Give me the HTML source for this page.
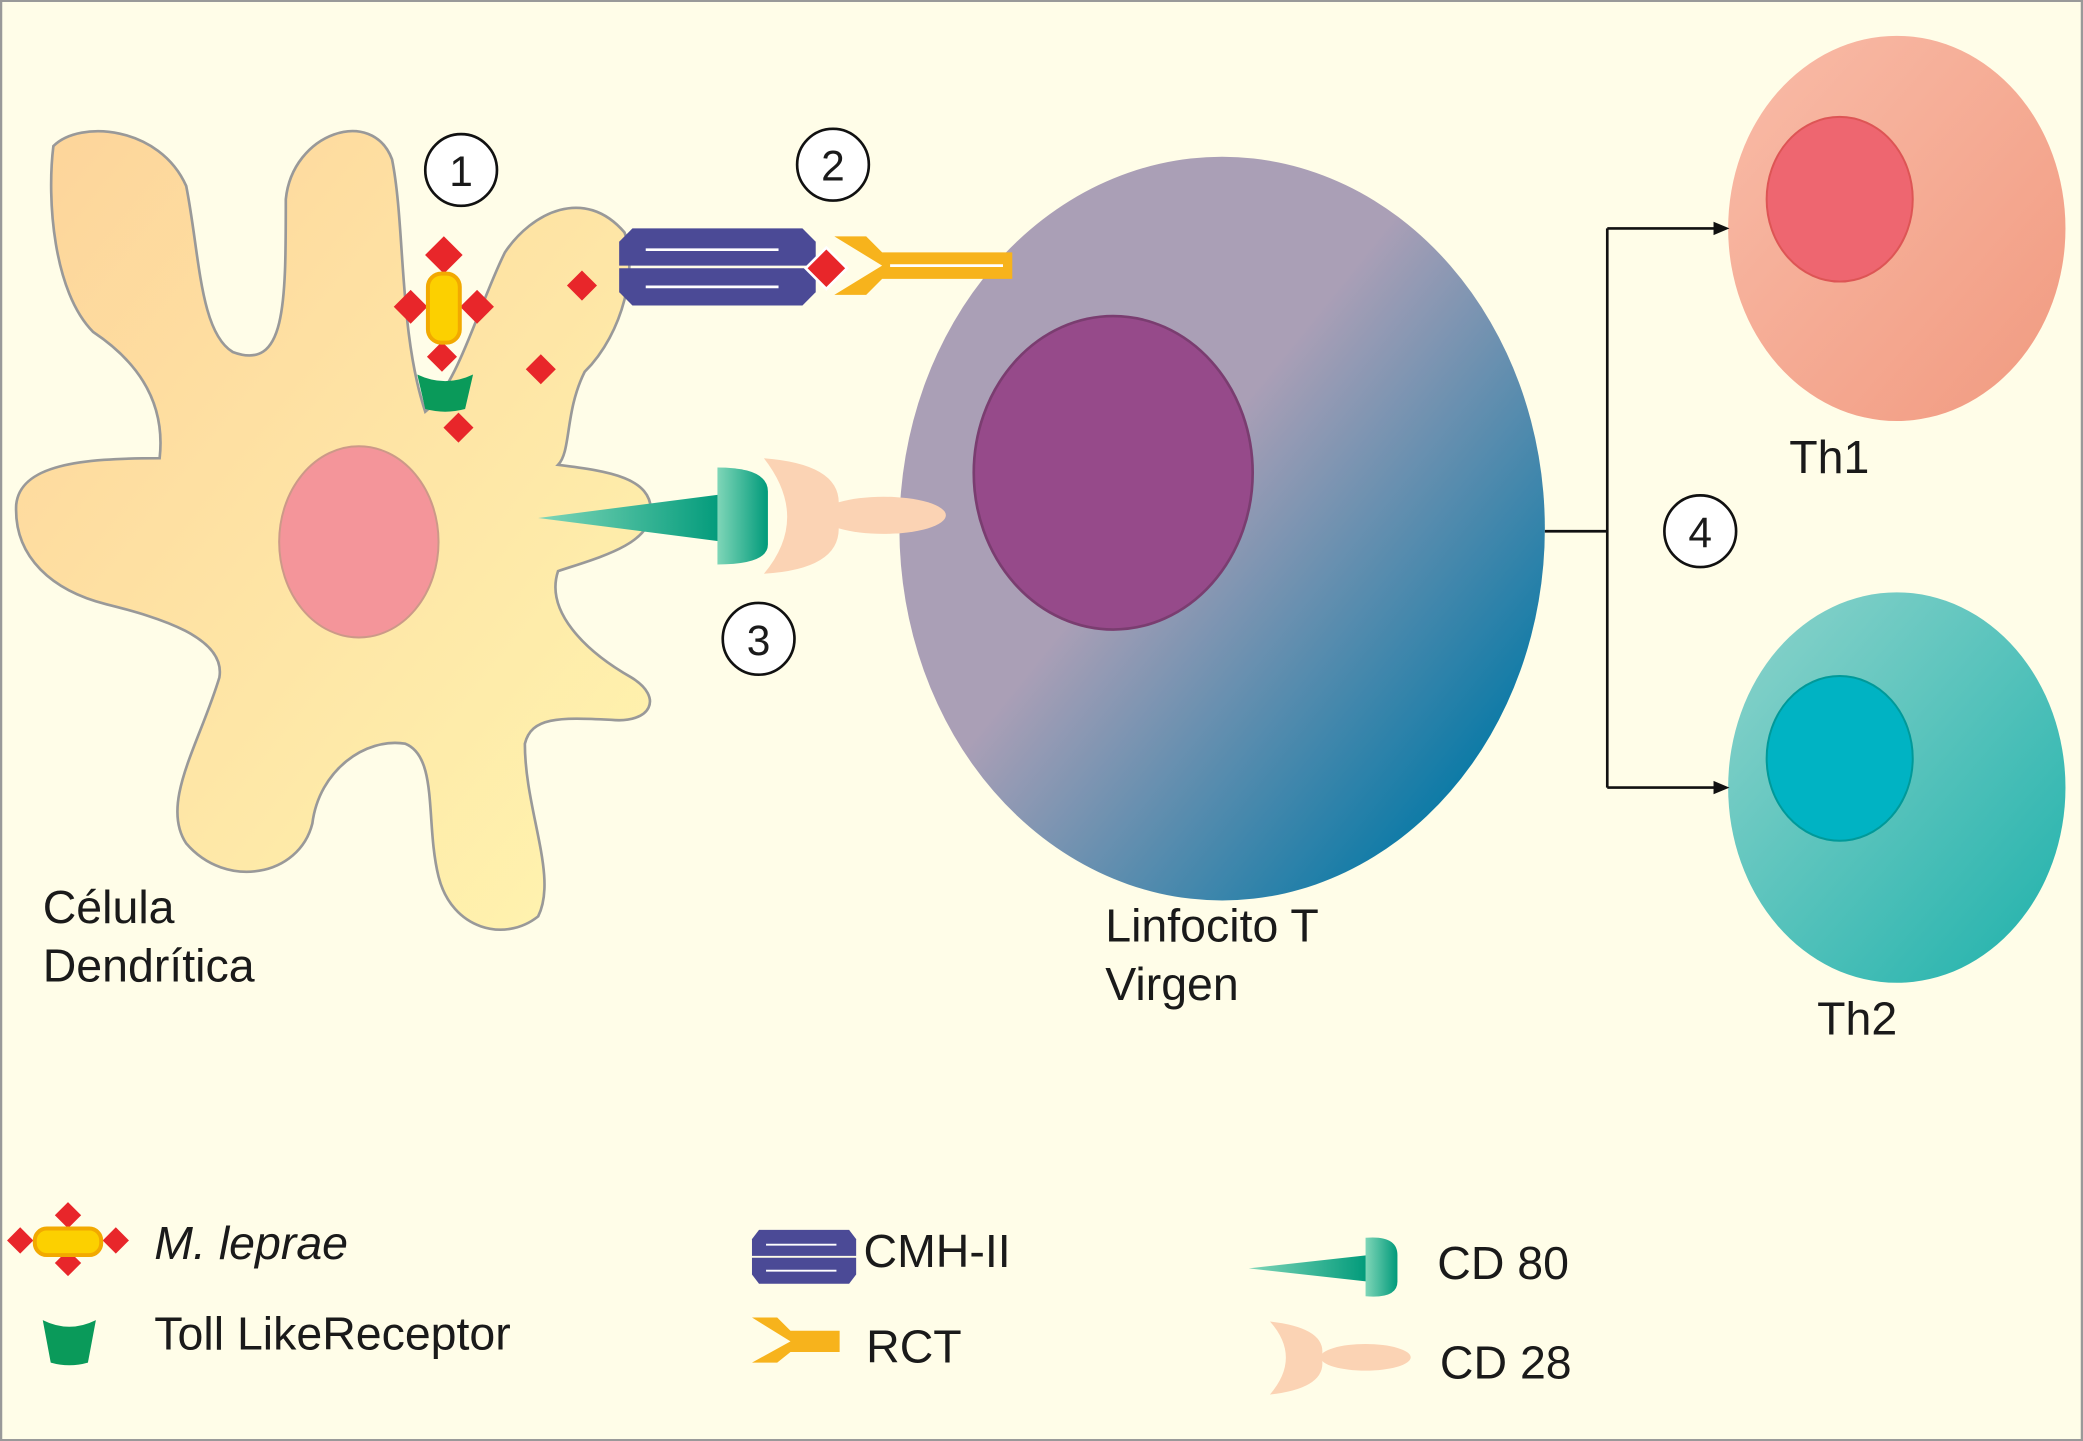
<!DOCTYPE html>
<html><head><meta charset="utf-8"><style>
html,body{margin:0;padding:0;background:#fffde8;}
svg{display:block;}
text{font-family:"Liberation Sans",sans-serif;fill:#1a1a1a;}
</style></head><body>
<svg width="2083" height="1441" viewBox="0 0 1568 1085" xmlns="http://www.w3.org/2000/svg">
<defs>
<linearGradient id="dc" x1="0" y1="0" x2="1" y2="1"><stop offset="0" stop-color="#fdd49a"/><stop offset="1" stop-color="#fff5b0"/></linearGradient>
<linearGradient id="tc" x1="0.2" y1="0.2" x2="0.9" y2="0.85"><stop offset="0.35" stop-color="#aa9fb6"/><stop offset="1" stop-color="#0679a6"/></linearGradient>
<linearGradient id="th1" x1="0" y1="0" x2="1" y2="1"><stop offset="0" stop-color="#f9bca8"/><stop offset="1" stop-color="#f19a80"/></linearGradient>
<linearGradient id="th2" x1="0" y1="0" x2="1" y2="1"><stop offset="0" stop-color="#8fd4cc"/><stop offset="1" stop-color="#1eb1ab"/></linearGradient>
<linearGradient id="cd80" x1="0" y1="0" x2="1" y2="0"><stop offset="0" stop-color="#7fd6b8"/><stop offset="1" stop-color="#009a7a"/></linearGradient>
<g id="mhc"><polygon points="0,10 10,0 138,0 148,10 148,28 0,28" fill="#4b4a96"/><polygon points="0,30 148,30 148,48 138,58 10,58 0,48" fill="#4b4a96"/><line x1="20" y1="16" x2="120" y2="16" stroke="#fff" stroke-width="2"/><line x1="20" y1="44" x2="120" y2="44" stroke="#fff" stroke-width="2"/></g>
</defs>
<rect x="0.5" y="0.5" width="1567" height="1084" fill="#fffde8" stroke="#999" stroke-width="2"/>
<!-- T cell -->
<ellipse cx="920" cy="398" rx="243" ry="280" fill="url(#tc)"/>
<ellipse cx="838" cy="356" rx="105" ry="118" fill="#964a8a" stroke="#7a3d70" stroke-width="2"/>
<!-- dendritic cell -->
<path d="M40,110 C60,90 120,95 140,140 C150,190 150,250 175,265 C215,280 215,230 215,150 C220,100 280,80 295,120 C305,170 300,250 320,310 C345,290 360,230 380,190 C400,160 440,140 470,175 C480,200 470,250 440,280 C425,310 430,340 420,350 C460,355 490,360 490,385 C490,410 450,420 420,430 C410,460 440,490 475,510 C500,525 490,545 460,542 C420,540 400,540 395,560 C395,610 420,660 405,690 C380,710 340,700 330,660 C320,620 330,570 305,560 C275,555 240,580 235,620 C225,660 170,670 140,635 C120,605 150,560 165,510 C170,480 120,465 80,455 C40,445 10,420 12,380 C15,350 60,345 120,345 C125,300 100,270 70,250 C40,220 35,150 40,110 Z" fill="url(#dc)" stroke="#999" stroke-width="2"/>
<ellipse cx="270" cy="408" rx="60" ry="72" fill="#f4959a" stroke="#c98" stroke-width="1.5"/>
<g fill="#e8262a">
<rect x="324" y="182" width="20" height="20" transform="rotate(45 334 192)"/>
<rect x="324" y="262" width="16" height="16" transform="rotate(45 334 270)"/>
<rect x="300" y="222" width="18" height="18" transform="rotate(45 309 231)"/>
<rect x="350" y="222" width="18" height="18" transform="rotate(45 359 231)"/>
<rect x="430" y="207" width="16" height="16" transform="rotate(45 438 215)"/>
<rect x="399" y="270" width="16" height="16" transform="rotate(45 407 278)"/>
<rect x="337" y="314" width="16" height="16" transform="rotate(45 345 322)"/>
</g>
<rect x="322" y="206" width="24" height="52" rx="10" fill="#fcd000" stroke="#f2a900" stroke-width="3"/>
<path d="M314,282 Q335,292 356,282 L350,308 Q335,312 320,308 Z" fill="#0a9a5a"/>
<!-- MHC + RCT -->
<use href="#mhc" x="466" y="172"/>
<path d="M628,178 L652,178 L664,190 L762,190 L762,200 L664,200 Z M628,222 L652,222 L664,210 L762,210 L762,200 L664,200 Z" fill="#f7b31c"/>
<line x1="670" y1="200" x2="755" y2="200" stroke="#fff" stroke-width="2"/>
<rect x="611" y="191" width="22" height="22" fill="#e8262a" stroke="#fff" stroke-width="2" transform="rotate(45 622 202)"/>
<!-- CD80/CD28 -->
<polygon points="405,390 545,372 545,408" fill="url(#cd80)"/>
<path d="M540,352 Q578,352 578,370 L578,410 Q578,425 540,425 Z" fill="url(#cd80)"/>
<ellipse cx="665" cy="388" rx="47" ry="14" fill="#fbd3b4"/>
<path d="M575,345 Q640,350 630,388 Q640,428 575,432 Q610,390 575,345 Z" fill="#fbd3b4"/>
<!-- Th1/Th2 -->
<ellipse cx="1428" cy="172" rx="127" ry="145" fill="url(#th1)"/>
<ellipse cx="1385" cy="150" rx="55" ry="62" fill="#ee6670" stroke="#d55" stroke-width="1.5"/>
<ellipse cx="1428" cy="593" rx="127" ry="147" fill="url(#th2)"/>
<ellipse cx="1385" cy="571" rx="55" ry="62" fill="#00b3c3" stroke="#099" stroke-width="1.5"/>
<g stroke="#111" stroke-width="2" fill="none"><path d="M1163,400 H1210 M1210,172 V593 M1210,172 H1292 M1210,593 H1292"/></g>
<polygon points="1302,172 1290,167 1290,177" fill="#111"/>
<polygon points="1302,593 1290,588 1290,598" fill="#111"/>
<g fill="#fff" stroke="#111" stroke-width="2">
<circle cx="347" cy="128" r="27"/><circle cx="627" cy="124" r="27"/><circle cx="571" cy="481" r="27"/><circle cx="1280" cy="400" r="27"/></g>
<g font-size="32" text-anchor="middle">
<text x="347" y="140">1</text><text x="627" y="136">2</text><text x="571" y="493">3</text><text x="1280" y="412">4</text></g>
<g font-size="35">
<text x="32" y="695">Célula</text><text x="32" y="739">Dendrítica</text>
<text x="832" y="709">Linfocito T</text><text x="832" y="753">Virgen</text>
<text x="1347" y="356">Th1</text><text x="1368" y="779">Th2</text>
</g>
<g fill="#e8262a">
<rect x="44" y="908" width="14" height="14" transform="rotate(45 51 915)"/>
<rect x="44" y="944" width="14" height="14" transform="rotate(45 51 951)"/>
<rect x="8" y="927" width="14" height="14" transform="rotate(45 15 934)"/>
<rect x="80" y="927" width="14" height="14" transform="rotate(45 87 934)"/>
</g>
<rect x="26" y="925" width="50" height="20" rx="9" fill="#fcd000" stroke="#f2a900" stroke-width="3"/>
<path d="M32,994 Q52,1004 72,994 L66,1026 Q52,1030 38,1026 Z" fill="#0a9a5a"/>
<use href="#mhc" transform="translate(566 926) scale(0.53 0.7)"/>
<path d="M566,992 L585,992 L595,1002 L632,1002 L632,1010 L595,1010 Z M566,1026 L585,1026 L595,1018 L632,1018 L632,1010 L595,1010 Z" fill="#f7b31c"/>
<polygon points="940,955 1030,945 1030,965" fill="url(#cd80)"/>
<path d="M1028,932 Q1052,930 1052,945 L1052,965 Q1052,978 1028,976 Z" fill="url(#cd80)"/>
<ellipse cx="1028" cy="1022" rx="34" ry="10" fill="#fbd3b4"/>
<path d="M956,995 Q1000,1000 995,1022 Q1000,1045 956,1050 Q980,1022 956,995 Z" fill="#fbd3b4"/>
<g font-size="35">
<text x="116" y="948" font-style="italic">M. leprae</text>
<text x="116" y="1016">Toll LikeReceptor</text>
<text x="650" y="954">CMH-II</text>
<text x="652" y="1026">RCT</text>
<text x="1082" y="963">CD 80</text>
<text x="1084" y="1038">CD 28</text>
</g>
</svg>
</body></html>
